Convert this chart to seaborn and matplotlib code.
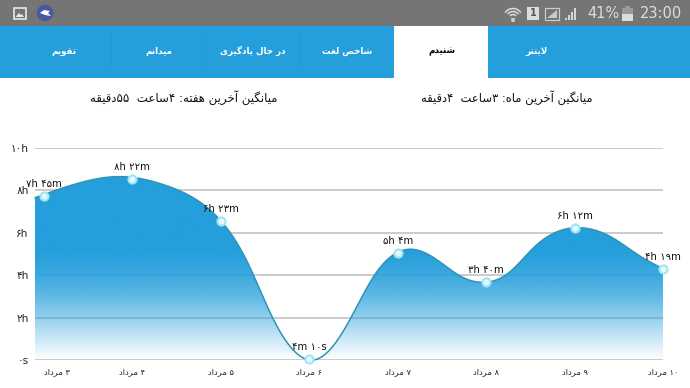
import numpy as np
import matplotlib
matplotlib.use('Agg')
import matplotlib.pyplot as plt
from matplotlib.patches import Rectangle, Circle, Arc, Polygon
import seaborn as sns

# point values
days = [3, 4, 5, 6, 7, 8, 9, 10]
hours = [7.73, 8.52, 6.56, 0.05, 5.06, 3.67, 6.20, 4.30]
point_labels = ['۷h ۴۵m', '۸h ۲۲m', '۶h ۲۳m', '۴m ۱۰s', '۵h ۴m', '۳h ۴۰m', '۶h ۱۲m', '۴h ۱۹m']

# outline of the curve
curve_days = [2.90, 3.48, 3.82, 4.39, 4.76, 5.00, 5.29, 5.59, 5.82, 6.06, 6.40, 6.74, 7.15, 7.42,
              7.72, 8.00, 8.25, 8.55, 9.06, 9.42, 9.72, 10.00]
curve_hours = [7.64, 8.42, 8.63, 8.20, 7.45, 6.56, 4.71, 1.97, 0.48, 0.02, 1.47, 4.01, 5.22, 4.79,
               3.93, 3.67, 4.09, 5.34, 6.23, 5.78, 4.95, 4.30]

x_ticks = ['۳ مرداد', '۴ مرداد', '۵ مرداد', '۶ مرداد', '۷ مرداد', '۸ مرداد', '۹ مرداد', '۱۰ مرداد']
y_values = [0, 2, 4, 6, 8, 10]
y_ticks = ['۰s', '۲h', '۴h', '۶h', '۸h', '۱۰h']

tabs = ['لایتنر', 'شنیدم', 'شاخص لغت', 'در حال یادگیری', 'میدانم', 'تقویم']
week_avg = 'میانگین آخرین هفته: ۴ساعت  ۵۵دقیقه'
month_avg = 'میانگین آخرین ماه: ۳ساعت  ۴دقیقه'

BLUE = '#259fdc'

# matplotlib does no arabic shaping, so pick the joined forms by hand
# letter: isolated, final, initial, medial
forms = {
    'ا': 'ﺍﺎ', 'آ': 'ﺁﺂ', 'د': 'ﺩﺪ', 'ر': 'ﺭﺮ', 'و': 'ﻭﻮ',
    'ت': 'ﺕﺖﺗﺘ', 'ح': 'ﺡﺢﺣﺤ', 'خ': 'ﺥﺦﺧﺨ', 'س': 'ﺱﺲﺳﺴ', 'ش': 'ﺵﺶﺷﺸ',
    'ص': 'ﺹﺺﺻﺼ', 'ع': 'ﻉﻊﻋﻌ', 'غ': 'ﻍﻎﻏﻐ', 'ف': 'ﻑﻒﻓﻔ', 'ق': 'ﻕﻖﻗﻘ',
    'ل': 'ﻝﻞﻟﻠ', 'م': 'ﻡﻢﻣﻤ', 'ن': 'ﻥﻦﻧﻨ', 'ه': 'ﻩﻪﻫﻬ', 'ی': 'ﯼﯽﯾﯿ', 'گ': 'ﮒﮓﮔﮕ',
}


def fa(text):
    out = []
    for i, c in enumerate(text):
        if c not in forms:
            out.append(c)
            continue
        prev = text[i - 1] if i > 0 else ''
        nxt = text[i + 1] if i + 1 < len(text) else ''
        joins_prev = prev in forms and len(forms[prev]) == 4
        joins_next = nxt in forms and len(forms[c]) == 4
        if c == 'ا' and prev == 'ل':
            lam_joined = i > 1 and text[i - 2] in forms and len(forms[text[i - 2]]) == 4
            out[-1] = 'ﻼ' if lam_joined else 'ﻻ'
            continue
        idx = {(0, 0): 0, (1, 0): 1, (0, 1): 2, (1, 1): 3}[(int(joins_prev), int(joins_next))]
        out.append(forms[c][idx])
    # visual order, digit runs stay left to right
    vis = []
    run = ''
    for c in reversed(out):
        if '۰' <= c <= '۹':
            run = c + run
        else:
            vis.append(run)
            run = ''
            vis.append(c)
    vis.append(run)
    return ''.join(vis)


def smooth(x, y, n=600):
    # natural cubic spline through the read points, only to round the drawn line
    x, y = np.array(x), np.array(y)
    h = np.diff(x)
    A = np.zeros((len(x), len(x)))
    b = np.zeros(len(x))
    A[0, 0] = A[-1, -1] = 1
    for i in range(1, len(x) - 1):
        A[i, i - 1:i + 2] = h[i - 1], 2 * (h[i - 1] + h[i]), h[i]
        b[i] = 6 * ((y[i + 1] - y[i]) / h[i] - (y[i] - y[i - 1]) / h[i - 1])
    m = np.linalg.solve(A, b)
    xs = np.linspace(x[0], x[-1], n)
    k = np.clip(np.searchsorted(x, xs) - 1, 0, len(h) - 1)
    a1, a2 = x[k + 1] - xs, xs - x[k]
    ys = (m[k] * a1**3 + m[k + 1] * a2**3) / (6 * h[k]) + (y[k] / h[k] - m[k] * h[k] / 6) * a1 \
        + (y[k + 1] / h[k] - m[k + 1] * h[k] / 6) * a2
    return xs, ys


sns.set_theme(style='white')
plt.rcParams['font.family'] = ['DejaVu Sans']

W, H = 690, 388
fig = plt.figure(figsize=(W / 100, H / 100), dpi=100, facecolor='white')

# app chrome, in pixels
bg = fig.add_axes([0, 0, 1, 1], zorder=0)
bg.set_xlim(0, W)
bg.set_ylim(H, 0)
bg.axis('off')
bg.add_patch(Rectangle((0, 0), W, 26, color='#757575', lw=0))
bg.add_patch(Rectangle((0, 26), W, 51.5, color=BLUE, lw=0))
bg.add_patch(Rectangle((394, 26), 94.4, 51.5, color='white', lw=0))
for i, name in enumerate(tabs):
    cx = 536 - 94.4 * i
    bg.text(cx, 51, fa(name), ha='center', va='center', fontsize=6.3, fontweight='bold',
            color='black' if i == 1 else 'white')
    if i > 1 and i < 5:
        bg.plot([cx - 47.2, cx - 47.2], [32, 70], color='#2b97cf', lw=0.7)
bg.text(184, 97.5, fa(week_avg), ha='center', va='center', fontsize=8.5, color='#111111')
bg.text(507, 97.5, fa(month_avg), ha='center', va='center', fontsize=8.3, color='#111111')

# status bar icons
bg.add_patch(Rectangle((13.5, 8), 12, 11, fc='#757575', ec='#e8e8e8', lw=1.2))
bg.add_patch(Polygon([(15.5, 17), (19, 13), (21, 15), (22, 14), (24, 17)], color='#e8e8e8', lw=0))
bg.add_patch(Circle((45, 13), 8.2, color='#4a569e', lw=0))
bg.add_patch(Polygon([(40, 13), (44, 10), (50, 11), (48, 13), (51, 16), (45, 15)], color='white', lw=0))
for r in (3.5, 6.5, 9.5):
    bg.add_patch(Arc((513, 18), 2 * r, 2 * r, theta1=215, theta2=325, color='#dddddd', lw=1.1))
bg.add_patch(Polygon([(511, 18), (515, 18), (514.5, 22), (511.5, 22)], color='#cccccc', lw=0))
bg.add_patch(Rectangle((527, 7), 12, 13, color='#dddddd', lw=0))
bg.text(533, 13.5, '1', ha='center', va='center', fontsize=7, fontweight='bold', color='#555555')
bg.add_patch(Rectangle((545, 7.5), 14, 12, fc='#757575', ec='#cccccc', lw=0.9))
bg.add_patch(Polygon([(547, 18), (557, 18), (557, 10)], color='#c8c8c8', lw=0))
for bx, bh in zip((565, 568, 571, 574), (2, 5, 8, 12)):
    bg.add_patch(Rectangle((bx, 19.5 - bh), 2, bh, color='#d5d5d5', lw=0))
bg.text(587, 13.5, '41%', ha='left', va='center', fontsize=10.5, color='#dddddd')
bg.add_patch(Rectangle((622, 8), 11, 12.5, color='#9a9a9a', lw=0))
bg.add_patch(Rectangle((622, 14), 11, 6.5, color='#dcdcdc', lw=0))
bg.add_patch(Rectangle((625, 5.5), 5, 3, color='#9a9a9a', lw=0))
bg.text(639.5, 13.5, '23:00', ha='left', va='center', fontsize=10.5, color='#dddddd')

# plot area, same pixels as the reference
left, right, top, bottom = 35, 663, 147.5, 360.3
ax = fig.add_axes([left / W, 1 - bottom / H, (right - left) / W, (bottom - top) / H], zorder=1)
ax.patch.set_alpha(0)
sns.despine(ax=ax, left=True, bottom=True)

xs, ys = smooth(curve_days, curve_hours)

for v in y_values:
    ax.axhline(v, color='#bdbdbd', lw=1.1, zorder=1)

# gradient fill, clipped to the curve
grad_h = np.linspace(0, 8.8, 200)
grad = np.zeros((200, 1, 4))
grad[:, 0, :3] = matplotlib.colors.to_rgb(BLUE)
grad[:, 0, 3] = np.interp(grad_h, [0, 1, 2, 3, 4, 5, 8.8], [0.0, 0.25, 0.5, 0.74, 0.9, 1, 1])
img = ax.imshow(grad, origin='lower', aspect='auto', extent=[xs[0], xs[-1], 0, 8.8], zorder=2)
clip = Polygon(np.column_stack([np.r_[xs, xs[-1], xs[0]], np.r_[ys, 0, 0]]), transform=ax.transData)
img.set_clip_path(clip)

sns.lineplot(x=xs, y=ys, ax=ax, color='#2f93b8', lw=1.1, zorder=3, clip_on=False, estimator=None, sort=False)
sns.scatterplot(x=days, y=hours, ax=ax, s=34, color='#e2fafd', edgecolor='#9fe6f5', linewidth=1.5,
                zorder=4, clip_on=False)

for d, h, lab in zip(days, hours, point_labels):
    ax.annotate(lab, (d, h), xytext=(0, 8.6), textcoords='offset points', ha='center', va='center',
                fontsize=7.3, color='#111111', annotation_clip=False, zorder=5)

ax.set_xlim(2.9, 10)
ax.set_ylim(0, 10)
ax.set_xticks(days)
ax.set_xticklabels([fa(t) for t in x_ticks], fontsize=6, color='#222222')
ax.get_xticklabels()[0].set_ha('left')
ax.set_yticks(y_values)
ax.set_yticklabels(y_ticks, fontsize=7.6, color='#222222')
ax.tick_params(axis='both', length=0)
ax.tick_params(axis='x', pad=5)
ax.tick_params(axis='y', pad=4.5)

fig.savefig('out.png', dpi=100)
